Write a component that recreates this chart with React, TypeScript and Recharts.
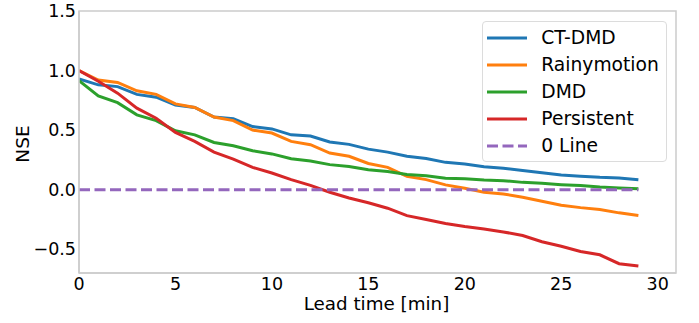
import React from 'react';
import { LineChart, Line, XAxis, YAxis, Legend, ReferenceArea } from 'recharts';

const LEAD_TIME = [0, 1, 2, 3, 4, 5, 6, 7, 8, 9, 10, 11, 12, 13, 14, 15, 16, 17, 18, 19, 20, 21, 22, 23, 24, 25, 26, 27, 28, 29];
const CT_DMD = [0.93, 0.88, 0.865, 0.8, 0.776, 0.71, 0.69, 0.61, 0.595, 0.53, 0.51, 0.46, 0.45, 0.4, 0.38, 0.34, 0.315, 0.28, 0.262, 0.229, 0.215, 0.193, 0.18, 0.16, 0.142, 0.123, 0.112, 0.103, 0.098, 0.084];
const RAINYMOTION = [1.0, 0.92, 0.9, 0.83, 0.8, 0.72, 0.69, 0.61, 0.58, 0.5, 0.475, 0.405, 0.377, 0.307, 0.28, 0.22, 0.187, 0.112, 0.084, 0.04, 0.011, -0.022, -0.036, -0.064, -0.098, -0.131, -0.151, -0.167, -0.195, -0.218];
const DMD = [0.915, 0.787, 0.73, 0.628, 0.58, 0.494, 0.46, 0.396, 0.368, 0.327, 0.3, 0.26, 0.24, 0.21, 0.195, 0.167, 0.153, 0.128, 0.117, 0.095, 0.092, 0.081, 0.075, 0.061, 0.053, 0.042, 0.034, 0.022, 0.014, 0.008];
const PERSISTENT = [1.0, 0.91, 0.81, 0.684, 0.6, 0.48, 0.405, 0.315, 0.257, 0.187, 0.14, 0.084, 0.036, -0.022, -0.07, -0.11, -0.156, -0.218, -0.251, -0.285, -0.31, -0.33, -0.355, -0.385, -0.438, -0.475, -0.52, -0.547, -0.622, -0.642];
const ZERO_LINE = [0, 0, 0, 0, 0, 0, 0, 0, 0, 0, 0, 0, 0, 0, 0, 0, 0, 0, 0, 0, 0, 0, 0, 0, 0, 0, 0, 0, 0, 0];

const SERIES_NAMES = ['CT-DMD', 'Rainymotion', 'DMD', 'Persistent', '0 Line'];
const X_TICKS = [0, 5, 10, 15, 20, 25, 30];
const Y_TICKS = [-0.5, 0, 0.5, 1, 1.5];
const X_DOMAIN = [0, 30.95];
const Y_DOMAIN = [-0.7, 1.5];

const data = LEAD_TIME.map((t, i) => ({
  t,
  ct: CT_DMD[i],
  rainy: RAINYMOTION[i],
  dmd: DMD[i],
  pers: PERSISTENT[i],
  zero: ZERO_LINE[i],
}));

const FONT = '"DejaVu Sans", sans-serif';
const SPINE = '#cccccc';

const fmtY = (v: number) => {
  const s = v.toFixed(1);
  return v < 0 ? '\u2212' + s.slice(1) : s;
};

const LegendBox = (props: any) => {
  const payload = (props.payload || []).slice().sort(
    (a: any, b: any) => SERIES_NAMES.indexOf(a.value) - SERIES_NAMES.indexOf(b.value)
  );
  return (
    <div
      style={{
        boxSizing: 'border-box',
        width: 185,
        height: 141,
        paddingTop: 2,
        border: '1px solid #dcdcdc',
        borderRadius: 4,
        background: 'rgba(255,255,255,0.8)',
        fontFamily: FONT,
        fontSize: 18.7,
        color: '#000',
      }}
    >
      {payload.map((p: any) => (
        <div key={p.value} style={{ display: 'flex', alignItems: 'center', height: 27.1 }}>
          <svg width={40} height={6} style={{ marginLeft: 4.6, display: 'block' }}>
            <line
              x1={0}
              y1={3}
              x2={40}
              y2={3}
              stroke={p.color}
              strokeWidth={3}
              strokeDasharray={p.value === '0 Line' ? '11 4.5' : undefined}
            />
          </svg>
          <span style={{ marginLeft: 14, lineHeight: '27px', whiteSpace: 'nowrap' }}>{p.value}</span>
        </div>
      ))}
    </div>
  );
};

const YLabel = (props: any) => {
  const vb = props.viewBox || { x: 0, y: 0, height: 0 };
  const cx = 29;
  const cy = vb.y + vb.height / 2 + 2;
  return (
    <text x={cx} y={cy} transform={`rotate(-90, ${cx}, ${cy})`} textAnchor="middle" fontFamily={FONT} fontSize={18.5} fill="#000">
      NSE
    </text>
  );
};

const XLabel = (props: any) => {
  const vb = props.viewBox || { x: 0, y: 0, width: 0 };
  return (
    <text x={vb.x + vb.width / 2 - 1} y={vb.y + 37} textAnchor="middle" fontFamily={FONT} fontSize={18.3} fill="#000">
      Lead time [min]
    </text>
  );
};

export default function App() {
  return (
    <div style={{ position: 'absolute', left: 0, top: 0, width: 699, height: 323, background: '#fff' }}>
      <LineChart width={699} height={323} data={data} margin={{ top: 11, right: 23, bottom: 0, left: 0 }}>
        <XAxis
          dataKey="t"
          type="number"
          domain={X_DOMAIN}
          ticks={X_TICKS}
          allowDataOverflow
          height={50}
          tickSize={0}
          tickMargin={5}
          axisLine={{ stroke: SPINE, strokeWidth: 1.5 }}
          tick={{ fontFamily: FONT, fontSize: 17.5, fill: '#000' }}
          label={{ content: XLabel }}
        />
        <YAxis
          type="number"
          domain={Y_DOMAIN}
          ticks={Y_TICKS}
          allowDataOverflow
          width={79}
          tickSize={0}
          tickMargin={3}
          tickFormatter={fmtY}
          axisLine={{ stroke: SPINE, strokeWidth: 1.5 }}
          tick={{ fontFamily: FONT, fontSize: 17.5, fill: '#000' }}
          label={{ content: YLabel }}
        />
        <ReferenceArea
          x1={X_DOMAIN[0]}
          x2={X_DOMAIN[1]}
          y1={Y_DOMAIN[0]}
          y2={Y_DOMAIN[1]}
          fill="none"
          fillOpacity={0}
          stroke={SPINE}
          strokeWidth={1.5}
          ifOverflow="visible"
        />
        <Legend
          layout="vertical"
          align="center"
          verticalAlign="middle"
          wrapperStyle={{ top: 21, left: 481.7, width: 185, height: 141 }}
          content={LegendBox}
        />
        <Line name="CT-DMD" dataKey="ct" stroke="#1f77b4" strokeWidth={3} dot={false} isAnimationActive={false} type="linear" />
        <Line name="Rainymotion" dataKey="rainy" stroke="#ff7f0e" strokeWidth={3} dot={false} isAnimationActive={false} type="linear" />
        <Line name="DMD" dataKey="dmd" stroke="#2ca02c" strokeWidth={3} dot={false} isAnimationActive={false} type="linear" />
        <Line name="Persistent" dataKey="pers" stroke="#d62728" strokeWidth={3} dot={false} isAnimationActive={false} type="linear" />
        <Line name="0 Line" dataKey="zero" stroke="#9467bd" strokeWidth={3} strokeDasharray="11 4.5" dot={false} isAnimationActive={false} type="linear" />
      </LineChart>
    </div>
  );
}
